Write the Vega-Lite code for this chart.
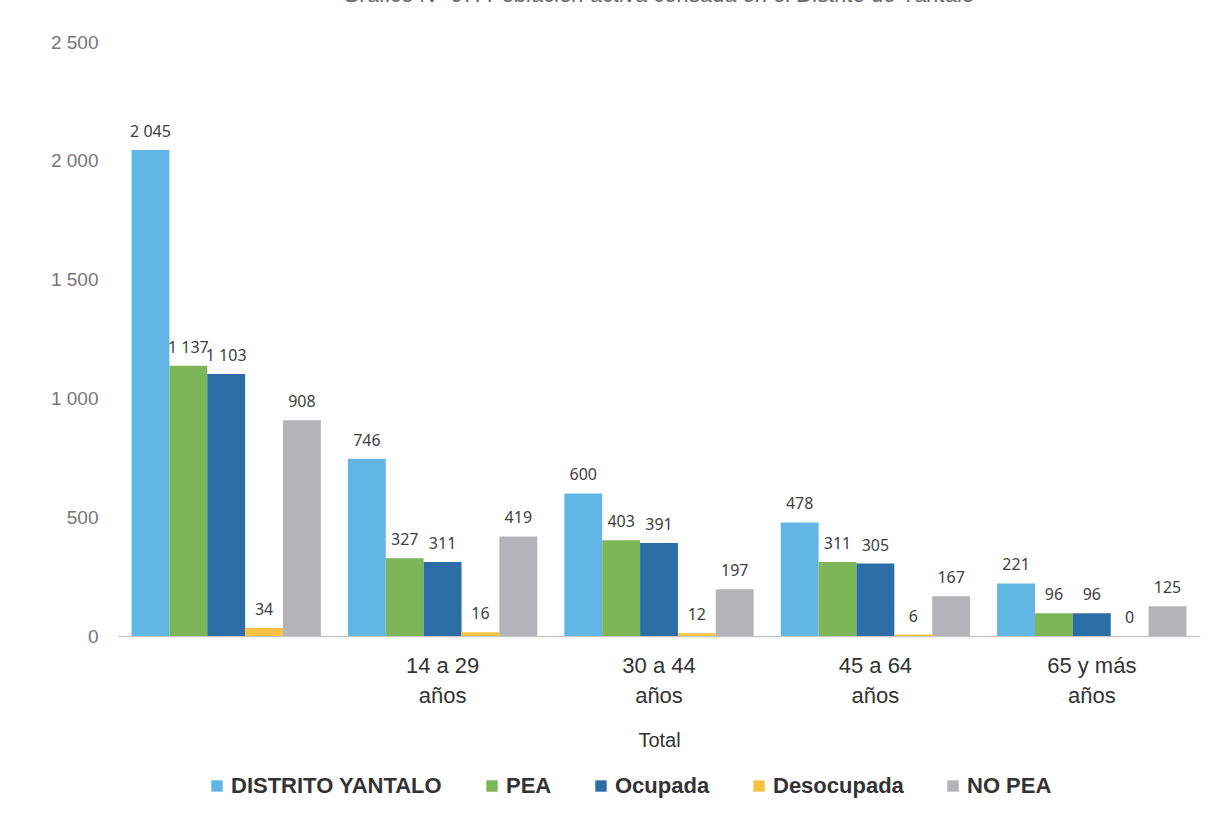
{
  "$schema": "https://vega.github.io/schema/vega-lite/v6.json",
  "width": 1082,
  "height": 594,
  "autosize": {"type": "none"},
  "padding": {"left": 118, "top": 42, "right": 18, "bottom": 183},
  "background": "white",
  "title": {
    "text": "Gráfico N° 07: Población activa censada en el Distrito de Yantalo",
    "font": "Liberation Sans",
    "fontStyle": "italic",
    "fontWeight": "normal",
    "fontSize": 22,
    "color": "#666666",
    "offset": 26,
    "anchor": "middle"
  },
  "data": {
    "values": [
      {"grupo": "Total", "serie": "DISTRITO YANTALO", "valor": 2045},
      {"grupo": "Total", "serie": "PEA", "valor": 1137},
      {"grupo": "Total", "serie": "Ocupada", "valor": 1103},
      {"grupo": "Total", "serie": "Desocupada", "valor": 34},
      {"grupo": "Total", "serie": "NO PEA", "valor": 908},
      {"grupo": "14 a 29 años", "serie": "DISTRITO YANTALO", "valor": 746},
      {"grupo": "14 a 29 años", "serie": "PEA", "valor": 327},
      {"grupo": "14 a 29 años", "serie": "Ocupada", "valor": 311},
      {"grupo": "14 a 29 años", "serie": "Desocupada", "valor": 16},
      {"grupo": "14 a 29 años", "serie": "NO PEA", "valor": 419},
      {"grupo": "30 a 44 años", "serie": "DISTRITO YANTALO", "valor": 600},
      {"grupo": "30 a 44 años", "serie": "PEA", "valor": 403},
      {"grupo": "30 a 44 años", "serie": "Ocupada", "valor": 391},
      {"grupo": "30 a 44 años", "serie": "Desocupada", "valor": 12},
      {"grupo": "30 a 44 años", "serie": "NO PEA", "valor": 197},
      {"grupo": "45 a 64 años", "serie": "DISTRITO YANTALO", "valor": 478},
      {"grupo": "45 a 64 años", "serie": "PEA", "valor": 311},
      {"grupo": "45 a 64 años", "serie": "Ocupada", "valor": 305},
      {"grupo": "45 a 64 años", "serie": "Desocupada", "valor": 6},
      {"grupo": "45 a 64 años", "serie": "NO PEA", "valor": 167},
      {"grupo": "65 y más años", "serie": "DISTRITO YANTALO", "valor": 221},
      {"grupo": "65 y más años", "serie": "PEA", "valor": 96},
      {"grupo": "65 y más años", "serie": "Ocupada", "valor": 96},
      {"grupo": "65 y más años", "serie": "Desocupada", "valor": 0},
      {"grupo": "65 y más años", "serie": "NO PEA", "valor": 125}
    ]
  },
  "encoding": {
    "x": {
      "field": "grupo",
      "type": "nominal",
      "sort": ["Total", "14 a 29 años", "30 a 44 años", "45 a 64 años", "65 y más años"],
      "scale": {"paddingInner": 0.125, "paddingOuter": 0.0625},
      "axis": {
        "title": "Total",
        "titleFont": "Liberation Sans",
        "titleFontSize": 20,
        "titleFontWeight": "normal",
        "titleColor": "#333333",
        "titleY": 104,
        "titleBaseline": "middle",
        "labelExpr": "datum.label == 'Total' ? '' : [replace(datum.label, ' años', ''), 'años']",
        "labelAngle": 0,
        "labelFont": "Liberation Sans",
        "labelFontSize": 22,
        "labelColor": "#333333",
        "labelLineHeight": 30,
        "labelBaseline": "top",
        "labelPadding": 19,
        "domainColor": "#c8c8c8",
        "domainWidth": 1.5,
        "ticks": false
      }
    },
    "xOffset": {
      "field": "serie",
      "type": "nominal",
      "sort": ["DISTRITO YANTALO", "PEA", "Ocupada", "Desocupada", "NO PEA"],
      "scale": {"paddingInner": 0, "paddingOuter": 0}
    },
    "y": {
      "field": "valor",
      "type": "quantitative",
      "scale": {"domain": [0, 2500], "nice": false},
      "axis": {
        "values": [0, 500, 1000, 1500, 2000, 2500],
        "format": ",d",
        "grid": false,
        "domain": false,
        "ticks": false,
        "labelPadding": 20,
        "labelFont": "Liberation Sans",
        "labelFontSize": 19,
        "labelColor": "#777777",
        "title": null
      }
    }
  },
  "layer": [
    {
      "mark": {"type": "bar"},
      "encoding": {
        "color": {
          "field": "serie",
          "type": "nominal",
          "scale": {
            "domain": ["DISTRITO YANTALO", "PEA", "Ocupada", "Desocupada", "NO PEA"],
            "range": ["#62b6e6", "#7db559", "#2c6da6", "#f6c244", "#b4b4b8"]
          },
          "legend": {
            "orient": "none",
            "legendX": 88,
            "legendY": 733,
            "direction": "horizontal",
            "title": null,
            "symbolType": "square",
            "symbolSize": 130,
            "symbolStrokeWidth": 0,
            "labelFont": "Liberation Sans",
            "labelFontSize": 22,
            "labelFontWeight": "bold",
            "labelColor": "#333333",
            "labelLimit": 0,
            "labelOffset": 3,
            "columnPadding": 38
          }
        }
      }
    },
    {
      "mark": {"type": "text", "baseline": "bottom", "dy": -10, "font": "Noto Sans", "fontSize": 16, "color": "#404040"},
      "encoding": {"text": {"field": "valor", "type": "quantitative", "format": ",d"}}
    }
  ],
  "config": {
    "view": {"stroke": null},
    "locale": {"number": {"decimal": ",", "thousands": " ", "grouping": [3], "currency": ["", ""]}}
  }
}
